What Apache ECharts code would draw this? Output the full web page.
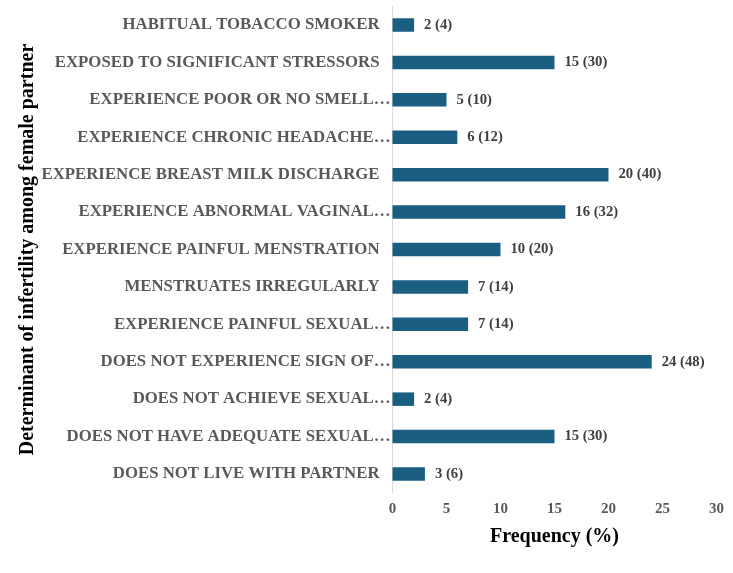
<!DOCTYPE html>
<html>
<head>
<meta charset="utf-8">
<script src="https://cdn.jsdelivr.net/npm/echarts@6/dist/echarts.min.js"></script>
<style>html,body{margin:0;padding:0;background:#fff}#c{width:733px;height:573px}</style>
</head>
<body>
<div id="c"></div>
<script>
const categories = [
  "DOES NOT LIVE WITH PARTNER",
  "DOES NOT HAVE ADEQUATE SEXUAL…",
  "DOES NOT ACHIEVE SEXUAL…",
  "DOES NOT EXPERIENCE SIGN OF…",
  "EXPERIENCE PAINFUL SEXUAL…",
  "MENSTRUATES IRREGULARLY",
  "EXPERIENCE PAINFUL MENSTRATION",
  "EXPERIENCE ABNORMAL VAGINAL…",
  "EXPERIENCE BREAST MILK DISCHARGE",
  "EXPERIENCE CHRONIC HEADACHE…",
  "EXPERIENCE POOR OR NO SMELL…",
  "EXPOSED TO SIGNIFICANT STRESSORS",
  "HABITUAL TOBACCO SMOKER"
];
const frequency = [3, 15, 2, 24, 7, 7, 10, 16, 20, 6, 5, 15, 2];
const percent = [6, 30, 4, 48, 14, 14, 20, 32, 40, 12, 10, 30, 4];
const xTicks = { min: 0, max: 30, interval: 5 };

const FONT = '"Liberation Serif", "Times New Roman", serif';
const chart = echarts.init(document.getElementById('c'));
chart.setOption({
  animation: false,
  grid: { left: 392.5, right: 16.5, top: 6.3, bottom: 80.3, containLabel: false },
  xAxis: {
    type: 'value', min: xTicks.min, max: xTicks.max, interval: xTicks.interval,
    axisLine: { show: false }, axisTick: { show: false }, splitLine: { show: false },
    axisLabel: { margin: 9, color: '#595959', fontFamily: FONT, fontWeight: 'bold', fontSize: 15 },
    name: 'Frequency (%)', nameLocation: 'middle', nameGap: 34,
    nameTextStyle: { color: '#000', fontFamily: FONT, fontWeight: 'bold', fontSize: 20 }
  },
  yAxis: {
    type: 'category', data: categories,
    axisLine: { show: true, lineStyle: { color: '#D9D9D9', width: 1 } },
    axisTick: { show: false },
    axisLabel: {
      margin: 2, fontFamily: FONT, fontWeight: 'bold', fontSize: 16.8, color: '#595959',
      formatter: function (v) { return v.endsWith('…') ? '{a|' + v + '}' : '{b|' + v + '}'; },
      rich: {
        a: { fontFamily: FONT, fontWeight: 'bold', fontSize: 16.8, color: '#595959' },
        b: { fontFamily: FONT, fontWeight: 'bold', fontSize: 16.8, color: '#595959', padding: [0, 11, 0, 0] }
      }
    },
    name: 'Determinant of infertility among female partner',
    nameLocation: 'middle', nameGap: 354, nameRotate: 90,
    nameTextStyle: { color: '#000', fontFamily: FONT, fontWeight: 'bold', fontSize: 20 }
  },
  series: [{
    type: 'bar', data: frequency, barWidth: 13.5,
    itemStyle: { color: '#1A5E82' },
    label: {
      show: true, position: 'right', distance: 10,
      color: '#404040', fontFamily: FONT, fontWeight: 'bold', fontSize: 14.7,
      formatter: function (p) { return frequency[p.dataIndex] + ' (' + percent[p.dataIndex] + ')'; }
    }
  }]
});
</script>
</body>
</html>
